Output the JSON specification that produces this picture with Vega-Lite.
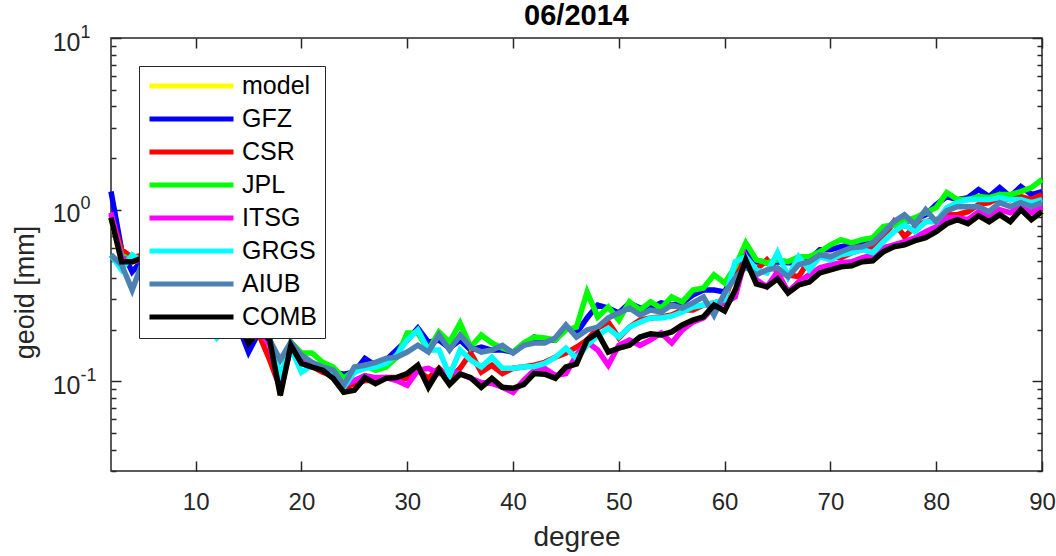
{
"$schema":"https://vega.github.io/schema/vega-lite/v6.json",
"width":931,"height":433,
"autosize":{"type":"none"},
"padding":{"left":111,"top":38,"right":14,"bottom":85},
"title":{"text":"06/2014","fontSize":29,"fontWeight":"bold","font":"Liberation Sans","color":"#000000","anchor":"middle","frame":"group","baseline":"bottom","offset":8,"dy":45},
"config":{"view":{"stroke":"#262626","strokeWidth":1.5},"font":"Liberation Sans"},
"resolve":{"axis":{"x":"independent","y":"independent"}},
"datasets":{
"model":[{"d":2,"v":0.898},{"d":3,"v":0.497},{"d":4,"v":0.497},{"d":5,"v":0.524},{"d":6,"v":0.446},{"d":7,"v":0.364},{"d":8,"v":0.298},{"d":9,"v":0.234},{"d":10,"v":0.234},{"d":11,"v":0.221},{"d":12,"v":0.204},{"d":13,"v":0.221},{"d":14,"v":0.227},{"d":15,"v":0.167},{"d":16,"v":0.199},{"d":17,"v":0.174},{"d":18,"v":0.0828},{"d":19,"v":0.162},{"d":20,"v":0.127},{"d":21,"v":0.121},{"d":22,"v":0.116},{"d":23,"v":0.104},{"d":24,"v":0.0862},{"d":25,"v":0.0886},{"d":26,"v":0.105},{"d":27,"v":0.097},{"d":28,"v":0.104},{"d":29,"v":0.105},{"d":30,"v":0.111},{"d":31,"v":0.124},{"d":32,"v":0.0923},{"d":33,"v":0.117},{"d":34,"v":0.0957},{"d":35,"v":0.11},{"d":36,"v":0.105},{"d":37,"v":0.0923},{"d":38,"v":0.104},{"d":39,"v":0.0923},{"d":40,"v":0.091},{"d":41,"v":0.0957},{"d":42,"v":0.111},{"d":43,"v":0.11},{"d":44,"v":0.104},{"d":45,"v":0.121},{"d":46,"v":0.126},{"d":47,"v":0.174},{"d":48,"v":0.191},{"d":49,"v":0.148},{"d":50,"v":0.156},{"d":51,"v":0.162},{"d":52,"v":0.181},{"d":53,"v":0.189},{"d":54,"v":0.186},{"d":55,"v":0.194},{"d":56,"v":0.213},{"d":57,"v":0.227},{"d":58,"v":0.237},{"d":59,"v":0.278},{"d":60,"v":0.257},{"d":61,"v":0.34},{"d":62,"v":0.51},{"d":63,"v":0.369},{"d":64,"v":0.355},{"d":65,"v":0.395},{"d":66,"v":0.327},{"d":67,"v":0.364},{"d":68,"v":0.379},{"d":69,"v":0.428},{"d":70,"v":0.446},{"d":71,"v":0.464},{"d":72,"v":0.471},{"d":73,"v":0.497},{"d":74,"v":0.503},{"d":75,"v":0.568},{"d":76,"v":0.608},{"d":77,"v":0.624},{"d":78,"v":0.659},{"d":79,"v":0.686},{"d":80,"v":0.744},{"d":81,"v":0.828},{"d":82,"v":0.874},{"d":83,"v":0.828},{"d":84,"v":0.922},{"d":85,"v":0.851},{"d":86,"v":0.935},{"d":87,"v":0.851},{"d":88,"v":1.0},{"d":89,"v":0.874},{"d":90,"v":0.973}],
"GFZ":[{"d":2,"v":1.274},{"d":3,"v":0.584},{"d":4,"v":0.434},{"d":5,"v":0.51},{"d":6,"v":0.434},{"d":7,"v":0.35},{"d":8,"v":0.278},{"d":9,"v":0.194},{"d":10,"v":0.234},{"d":11,"v":0.213},{"d":12,"v":0.21},{"d":13,"v":0.227},{"d":14,"v":0.213},{"d":15,"v":0.148},{"d":16,"v":0.194},{"d":17,"v":0.169},{"d":18,"v":0.101},{"d":19,"v":0.162},{"d":20,"v":0.133},{"d":21,"v":0.124},{"d":22,"v":0.119},{"d":23,"v":0.113},{"d":24,"v":0.11},{"d":25,"v":0.113},{"d":26,"v":0.136},{"d":27,"v":0.124},{"d":28,"v":0.133},{"d":29,"v":0.152},{"d":30,"v":0.174},{"d":31,"v":0.204},{"d":32,"v":0.169},{"d":33,"v":0.174},{"d":34,"v":0.156},{"d":35,"v":0.174},{"d":36,"v":0.152},{"d":37,"v":0.158},{"d":38,"v":0.152},{"d":39,"v":0.152},{"d":40,"v":0.148},{"d":41,"v":0.162},{"d":42,"v":0.181},{"d":43,"v":0.174},{"d":44,"v":0.174},{"d":45,"v":0.207},{"d":46,"v":0.191},{"d":47,"v":0.234},{"d":48,"v":0.278},{"d":49,"v":0.267},{"d":50,"v":0.25},{"d":51,"v":0.286},{"d":52,"v":0.267},{"d":53,"v":0.267},{"d":54,"v":0.286},{"d":55,"v":0.278},{"d":56,"v":0.286},{"d":57,"v":0.318},{"d":58,"v":0.34},{"d":59,"v":0.34},{"d":60,"v":0.331},{"d":61,"v":0.434},{"d":62,"v":0.568},{"d":63,"v":0.497},{"d":64,"v":0.49},{"d":65,"v":0.497},{"d":66,"v":0.49},{"d":67,"v":0.49},{"d":68,"v":0.51},{"d":69,"v":0.584},{"d":70,"v":0.584},{"d":71,"v":0.608},{"d":72,"v":0.624},{"d":73,"v":0.65},{"d":74,"v":0.668},{"d":75,"v":0.785},{"d":76,"v":0.817},{"d":77,"v":0.851},{"d":78,"v":0.874},{"d":79,"v":0.935},{"d":80,"v":1.07},{"d":81,"v":1.191},{"d":82,"v":1.144},{"d":83,"v":1.175},{"d":84,"v":1.309},{"d":85,"v":1.191},{"d":86,"v":1.344},{"d":87,"v":1.191},{"d":88,"v":1.363},{"d":89,"v":1.224},{"d":90,"v":1.274}],
"CSR":[{"d":2,"v":0.935},{"d":3,"v":0.584},{"d":4,"v":0.524},{"d":5,"v":0.545},{"d":6,"v":0.458},{"d":7,"v":0.374},{"d":8,"v":0.298},{"d":9,"v":0.243},{"d":10,"v":0.227},{"d":11,"v":0.227},{"d":12,"v":0.213},{"d":13,"v":0.221},{"d":14,"v":0.221},{"d":15,"v":0.174},{"d":16,"v":0.186},{"d":17,"v":0.133},{"d":18,"v":0.091},{"d":19,"v":0.156},{"d":20,"v":0.133},{"d":21,"v":0.122},{"d":22,"v":0.113},{"d":23,"v":0.108},{"d":24,"v":0.091},{"d":25,"v":0.097},{"d":26,"v":0.101},{"d":27,"v":0.101},{"d":28,"v":0.105},{"d":29,"v":0.105},{"d":30,"v":0.104},{"d":31,"v":0.116},{"d":32,"v":0.104},{"d":33,"v":0.119},{"d":34,"v":0.104},{"d":35,"v":0.119},{"d":36,"v":0.146},{"d":37,"v":0.113},{"d":38,"v":0.124},{"d":39,"v":0.111},{"d":40,"v":0.119},{"d":41,"v":0.121},{"d":42,"v":0.124},{"d":43,"v":0.129},{"d":44,"v":0.138},{"d":45,"v":0.146},{"d":46,"v":0.158},{"d":47,"v":0.174},{"d":48,"v":0.204},{"d":49,"v":0.221},{"d":50,"v":0.179},{"d":51,"v":0.207},{"d":52,"v":0.227},{"d":53,"v":0.234},{"d":54,"v":0.237},{"d":55,"v":0.243},{"d":56,"v":0.26},{"d":57,"v":0.26},{"d":58,"v":0.278},{"d":59,"v":0.286},{"d":60,"v":0.298},{"d":61,"v":0.446},{"d":62,"v":0.49},{"d":63,"v":0.446},{"d":64,"v":0.51},{"d":65,"v":0.434},{"d":66,"v":0.417},{"d":67,"v":0.406},{"d":68,"v":0.51},{"d":69,"v":0.545},{"d":70,"v":0.531},{"d":71,"v":0.524},{"d":72,"v":0.561},{"d":73,"v":0.584},{"d":74,"v":0.608},{"d":75,"v":0.686},{"d":76,"v":0.851},{"d":77,"v":0.695},{"d":78,"v":0.796},{"d":79,"v":0.851},{"d":80,"v":0.874},{"d":81,"v":0.935},{"d":82,"v":0.935},{"d":83,"v":0.973},{"d":84,"v":1.07},{"d":85,"v":1.099},{"d":86,"v":1.175},{"d":87,"v":1.144},{"d":88,"v":1.191},{"d":89,"v":1.144},{"d":90,"v":1.224}],
"JPL":[{"d":2,"v":0.898},{"d":3,"v":0.545},{"d":4,"v":0.497},{"d":5,"v":0.524},{"d":6,"v":0.446},{"d":7,"v":0.364},{"d":8,"v":0.298},{"d":9,"v":0.234},{"d":10,"v":0.234},{"d":11,"v":0.227},{"d":12,"v":0.21},{"d":13,"v":0.227},{"d":14,"v":0.234},{"d":15,"v":0.179},{"d":16,"v":0.204},{"d":17,"v":0.179},{"d":18,"v":0.101},{"d":19,"v":0.169},{"d":20,"v":0.146},{"d":21,"v":0.146},{"d":22,"v":0.129},{"d":23,"v":0.121},{"d":24,"v":0.104},{"d":25,"v":0.116},{"d":26,"v":0.124},{"d":27,"v":0.116},{"d":28,"v":0.121},{"d":29,"v":0.138},{"d":30,"v":0.191},{"d":31,"v":0.191},{"d":32,"v":0.152},{"d":33,"v":0.194},{"d":34,"v":0.169},{"d":35,"v":0.218},{"d":36,"v":0.158},{"d":37,"v":0.186},{"d":38,"v":0.167},{"d":39,"v":0.156},{"d":40,"v":0.148},{"d":41,"v":0.167},{"d":42,"v":0.181},{"d":43,"v":0.179},{"d":44,"v":0.174},{"d":45,"v":0.199},{"d":46,"v":0.207},{"d":47,"v":0.331},{"d":48,"v":0.237},{"d":49,"v":0.271},{"d":50,"v":0.227},{"d":51,"v":0.29},{"d":52,"v":0.26},{"d":53,"v":0.29},{"d":54,"v":0.267},{"d":55,"v":0.31},{"d":56,"v":0.29},{"d":57,"v":0.34},{"d":58,"v":0.35},{"d":59,"v":0.417},{"d":60,"v":0.374},{"d":61,"v":0.464},{"d":62,"v":0.641},{"d":63,"v":0.51},{"d":64,"v":0.49},{"d":65,"v":0.51},{"d":66,"v":0.497},{"d":67,"v":0.531},{"d":68,"v":0.531},{"d":69,"v":0.568},{"d":70,"v":0.624},{"d":71,"v":0.668},{"d":72,"v":0.641},{"d":73,"v":0.668},{"d":74,"v":0.686},{"d":75,"v":0.796},{"d":76,"v":0.817},{"d":77,"v":0.851},{"d":78,"v":0.898},{"d":79,"v":0.96},{"d":80,"v":1.027},{"d":81,"v":1.257},{"d":82,"v":1.144},{"d":83,"v":1.144},{"d":84,"v":1.191},{"d":85,"v":1.175},{"d":86,"v":1.224},{"d":87,"v":1.224},{"d":88,"v":1.274},{"d":89,"v":1.344},{"d":90,"v":1.497}],
"ITSG":[{"d":2,"v":0.96},{"d":3,"v":0.524},{"d":4,"v":0.497},{"d":5,"v":0.51},{"d":6,"v":0.434},{"d":7,"v":0.36},{"d":8,"v":0.29},{"d":9,"v":0.234},{"d":10,"v":0.227},{"d":11,"v":0.221},{"d":12,"v":0.21},{"d":13,"v":0.221},{"d":14,"v":0.221},{"d":15,"v":0.169},{"d":16,"v":0.199},{"d":17,"v":0.162},{"d":18,"v":0.091},{"d":19,"v":0.158},{"d":20,"v":0.129},{"d":21,"v":0.122},{"d":22,"v":0.116},{"d":23,"v":0.107},{"d":24,"v":0.0948},{"d":25,"v":0.101},{"d":26,"v":0.108},{"d":27,"v":0.105},{"d":28,"v":0.105},{"d":29,"v":0.101},{"d":30,"v":0.0948},{"d":31,"v":0.116},{"d":32,"v":0.119},{"d":33,"v":0.111},{"d":34,"v":0.116},{"d":35,"v":0.111},{"d":36,"v":0.104},{"d":37,"v":0.0983},{"d":38,"v":0.097},{"d":39,"v":0.0923},{"d":40,"v":0.0862},{"d":41,"v":0.101},{"d":42,"v":0.116},{"d":43,"v":0.119},{"d":44,"v":0.108},{"d":45,"v":0.111},{"d":46,"v":0.142},{"d":47,"v":0.169},{"d":48,"v":0.152},{"d":49,"v":0.124},{"d":50,"v":0.162},{"d":51,"v":0.174},{"d":52,"v":0.162},{"d":53,"v":0.174},{"d":54,"v":0.191},{"d":55,"v":0.167},{"d":56,"v":0.199},{"d":57,"v":0.221},{"d":58,"v":0.234},{"d":59,"v":0.271},{"d":60,"v":0.286},{"d":61,"v":0.31},{"d":62,"v":0.531},{"d":63,"v":0.39},{"d":64,"v":0.355},{"d":65,"v":0.434},{"d":66,"v":0.331},{"d":67,"v":0.379},{"d":68,"v":0.417},{"d":69,"v":0.458},{"d":70,"v":0.477},{"d":71,"v":0.49},{"d":72,"v":0.497},{"d":73,"v":0.524},{"d":74,"v":0.545},{"d":75,"v":0.6},{"d":76,"v":0.624},{"d":77,"v":0.65},{"d":78,"v":0.686},{"d":79,"v":0.744},{"d":80,"v":0.796},{"d":81,"v":0.898},{"d":82,"v":0.898},{"d":83,"v":0.874},{"d":84,"v":0.973},{"d":85,"v":0.91},{"d":86,"v":1.0},{"d":87,"v":0.96},{"d":88,"v":1.041},{"d":89,"v":0.96},{"d":90,"v":1.041}],
"GRGS":[{"d":2,"v":0.545},{"d":3,"v":0.446},{"d":4,"v":0.545},{"d":5,"v":0.497},{"d":6,"v":0.417},{"d":7,"v":0.34},{"d":8,"v":0.278},{"d":9,"v":0.243},{"d":10,"v":0.221},{"d":11,"v":0.213},{"d":12,"v":0.179},{"d":13,"v":0.213},{"d":14,"v":0.221},{"d":15,"v":0.174},{"d":16,"v":0.199},{"d":17,"v":0.174},{"d":18,"v":0.108},{"d":19,"v":0.156},{"d":20,"v":0.113},{"d":21,"v":0.124},{"d":22,"v":0.119},{"d":23,"v":0.108},{"d":24,"v":0.0923},{"d":25,"v":0.113},{"d":26,"v":0.119},{"d":27,"v":0.121},{"d":28,"v":0.127},{"d":29,"v":0.142},{"d":30,"v":0.174},{"d":31,"v":0.199},{"d":32,"v":0.152},{"d":33,"v":0.152},{"d":34,"v":0.108},{"d":35,"v":0.152},{"d":36,"v":0.133},{"d":37,"v":0.121},{"d":38,"v":0.138},{"d":39,"v":0.119},{"d":40,"v":0.119},{"d":41,"v":0.121},{"d":42,"v":0.122},{"d":43,"v":0.127},{"d":44,"v":0.138},{"d":45,"v":0.156},{"d":46,"v":0.136},{"d":47,"v":0.162},{"d":48,"v":0.184},{"d":49,"v":0.204},{"d":50,"v":0.181},{"d":51,"v":0.207},{"d":52,"v":0.221},{"d":53,"v":0.234},{"d":54,"v":0.234},{"d":55,"v":0.24},{"d":56,"v":0.253},{"d":57,"v":0.271},{"d":58,"v":0.278},{"d":59,"v":0.286},{"d":60,"v":0.298},{"d":61,"v":0.497},{"d":62,"v":0.531},{"d":63,"v":0.446},{"d":64,"v":0.428},{"d":65,"v":0.561},{"d":66,"v":0.406},{"d":67,"v":0.531},{"d":68,"v":0.446},{"d":69,"v":0.531},{"d":70,"v":0.51},{"d":71,"v":0.545},{"d":72,"v":0.561},{"d":73,"v":0.584},{"d":74,"v":0.561},{"d":75,"v":0.65},{"d":76,"v":0.744},{"d":77,"v":0.817},{"d":78,"v":0.744},{"d":79,"v":0.851},{"d":80,"v":0.851},{"d":81,"v":1.027},{"d":82,"v":1.099},{"d":83,"v":1.144},{"d":84,"v":1.144},{"d":85,"v":1.144},{"d":86,"v":1.175},{"d":87,"v":1.144},{"d":88,"v":1.144},{"d":89,"v":1.099},{"d":90,"v":1.144}],
"AIUB":[{"d":2,"v":0.545},{"d":3,"v":0.477},{"d":4,"v":0.34},{"d":5,"v":0.497},{"d":6,"v":0.434},{"d":7,"v":0.355},{"d":8,"v":0.29},{"d":9,"v":0.234},{"d":10,"v":0.227},{"d":11,"v":0.221},{"d":12,"v":0.21},{"d":13,"v":0.221},{"d":14,"v":0.227},{"d":15,"v":0.179},{"d":16,"v":0.204},{"d":17,"v":0.174},{"d":18,"v":0.133},{"d":19,"v":0.169},{"d":20,"v":0.142},{"d":21,"v":0.129},{"d":22,"v":0.121},{"d":23,"v":0.116},{"d":24,"v":0.0948},{"d":25,"v":0.121},{"d":26,"v":0.124},{"d":27,"v":0.129},{"d":28,"v":0.136},{"d":29,"v":0.138},{"d":30,"v":0.148},{"d":31,"v":0.162},{"d":32,"v":0.148},{"d":33,"v":0.186},{"d":34,"v":0.152},{"d":35,"v":0.186},{"d":36,"v":0.158},{"d":37,"v":0.148},{"d":38,"v":0.152},{"d":39,"v":0.162},{"d":40,"v":0.146},{"d":41,"v":0.162},{"d":42,"v":0.167},{"d":43,"v":0.167},{"d":44,"v":0.179},{"d":45,"v":0.213},{"d":46,"v":0.181},{"d":47,"v":0.199},{"d":48,"v":0.207},{"d":49,"v":0.234},{"d":50,"v":0.25},{"d":51,"v":0.267},{"d":52,"v":0.243},{"d":53,"v":0.26},{"d":54,"v":0.253},{"d":55,"v":0.278},{"d":56,"v":0.267},{"d":57,"v":0.286},{"d":58,"v":0.31},{"d":59,"v":0.243},{"d":60,"v":0.327},{"d":61,"v":0.4},{"d":62,"v":0.464},{"d":63,"v":0.417},{"d":64,"v":0.446},{"d":65,"v":0.458},{"d":66,"v":0.406},{"d":67,"v":0.477},{"d":68,"v":0.497},{"d":69,"v":0.545},{"d":70,"v":0.531},{"d":71,"v":0.568},{"d":72,"v":0.6},{"d":73,"v":0.608},{"d":74,"v":0.641},{"d":75,"v":0.734},{"d":76,"v":0.851},{"d":77,"v":0.935},{"d":78,"v":0.817},{"d":79,"v":1.0},{"d":80,"v":0.851},{"d":81,"v":0.987},{"d":82,"v":1.041},{"d":83,"v":1.041},{"d":84,"v":1.041},{"d":85,"v":0.973},{"d":86,"v":1.099},{"d":87,"v":1.041},{"d":88,"v":1.099},{"d":89,"v":1.041},{"d":90,"v":1.099}],
"COMB":[{"d":2,"v":0.898},{"d":3,"v":0.497},{"d":4,"v":0.497},{"d":5,"v":0.524},{"d":6,"v":0.446},{"d":7,"v":0.364},{"d":8,"v":0.298},{"d":9,"v":0.234},{"d":10,"v":0.234},{"d":11,"v":0.221},{"d":12,"v":0.204},{"d":13,"v":0.221},{"d":14,"v":0.227},{"d":15,"v":0.167},{"d":16,"v":0.199},{"d":17,"v":0.174},{"d":18,"v":0.0828},{"d":19,"v":0.162},{"d":20,"v":0.127},{"d":21,"v":0.121},{"d":22,"v":0.116},{"d":23,"v":0.104},{"d":24,"v":0.0862},{"d":25,"v":0.0886},{"d":26,"v":0.105},{"d":27,"v":0.097},{"d":28,"v":0.104},{"d":29,"v":0.105},{"d":30,"v":0.111},{"d":31,"v":0.124},{"d":32,"v":0.0923},{"d":33,"v":0.117},{"d":34,"v":0.0957},{"d":35,"v":0.11},{"d":36,"v":0.105},{"d":37,"v":0.0923},{"d":38,"v":0.104},{"d":39,"v":0.0923},{"d":40,"v":0.091},{"d":41,"v":0.0957},{"d":42,"v":0.111},{"d":43,"v":0.11},{"d":44,"v":0.104},{"d":45,"v":0.121},{"d":46,"v":0.126},{"d":47,"v":0.174},{"d":48,"v":0.191},{"d":49,"v":0.148},{"d":50,"v":0.156},{"d":51,"v":0.162},{"d":52,"v":0.181},{"d":53,"v":0.189},{"d":54,"v":0.186},{"d":55,"v":0.194},{"d":56,"v":0.213},{"d":57,"v":0.227},{"d":58,"v":0.237},{"d":59,"v":0.278},{"d":60,"v":0.257},{"d":61,"v":0.34},{"d":62,"v":0.51},{"d":63,"v":0.369},{"d":64,"v":0.355},{"d":65,"v":0.395},{"d":66,"v":0.327},{"d":67,"v":0.364},{"d":68,"v":0.379},{"d":69,"v":0.428},{"d":70,"v":0.446},{"d":71,"v":0.464},{"d":72,"v":0.471},{"d":73,"v":0.497},{"d":74,"v":0.503},{"d":75,"v":0.568},{"d":76,"v":0.608},{"d":77,"v":0.624},{"d":78,"v":0.659},{"d":79,"v":0.686},{"d":80,"v":0.744},{"d":81,"v":0.828},{"d":82,"v":0.874},{"d":83,"v":0.828},{"d":84,"v":0.922},{"d":85,"v":0.851},{"d":86,"v":0.935},{"d":87,"v":0.851},{"d":88,"v":1.0},{"d":89,"v":0.874},{"d":90,"v":0.973}]
},
"layer":[
{"data":{"name":"model"},"mark":{"type":"line","strokeWidth":5.5},
 "encoding":{
  "x":{"field":"d","type":"quantitative","scale":{"domain":[2,90],"nice":false,"zero":false},
       "axis":{"orient":"top","values":[10,20,30,40,50,60,70,80,90],"labels":false,"title":null,"domain":false,"grid":false,"tickSize":-10,"tickColor":"#262626","tickWidth":1.5}},
  "y":{"field":"v","type":"quantitative","scale":{"type":"log","domain":[0.03,10],"nice":false},
       "axis":{"orient":"right","values":[0.03,0.04,0.05,0.06,0.07,0.08,0.09,0.1,0.2,0.3,0.4,0.5,0.6,0.7,0.8,0.9,1,2,3,4,5,6,7,8,9,10],"labels":false,"title":null,"domain":false,"grid":false,
        "tickSize":{"condition":{"test":"datum.value==0.1||datum.value==1||datum.value==10","value":-10},"value":-5},"tickColor":"#262626","tickWidth":1.5}},
  "color":{"datum":"model","type":"nominal",
    "scale":{"domain":["model","GFZ","CSR","JPL","ITSG","GRGS","AIUB","COMB"],"range":["#ffff00","#0000ff","#ff0000","#00ff00","#ff00ff","#00ffff","#4d80b3","#000000"]},
    "legend":{"orient":"none","legendX":28,"legendY":28,"title":null,"symbolType":"stroke","symbolSize":7056,"symbolStrokeWidth":5,"symbolOpacity":1,"labelFontSize":25,"labelFont":"Liberation Sans","labelColor":"#000000","labelOffset":6,"padding":8,"rowPadding":8,"clipHeight":24,"strokeColor":"#262626","fillColor":"#ffffff"}}
 }},
{"data":{"name":"GFZ"},"mark":{"type":"line","strokeWidth":5.5},
 "encoding":{"x":{"field":"d","type":"quantitative","axis":null},
  "y":{"field":"v","type":"quantitative",
       "axis":{"orient":"left","values":[0.1,1,10],"labelExpr":"datum.value==10?'1':datum.value==1?'0':'-1'","labelAlign":"left","labelFontSize":18,"labelFont":"Liberation Sans","labelColor":"#262626","labelPadding":31,"labelOffset":-6,"labelOverlap":false,"labelFlush":false,"ticks":false,"domain":false,"grid":false,"title":null}},
  "color":{"datum":"GFZ","type":"nominal"}}},
{"data":{"name":"CSR"},"mark":{"type":"line","strokeWidth":5.5},
 "encoding":{"x":{"field":"d","type":"quantitative","axis":null},"y":{"field":"v","type":"quantitative","axis":null},"color":{"datum":"CSR","type":"nominal"}}},
{"data":{"name":"JPL"},"mark":{"type":"line","strokeWidth":5.5},
 "encoding":{"x":{"field":"d","type":"quantitative","axis":null},"y":{"field":"v","type":"quantitative","axis":null},"color":{"datum":"JPL","type":"nominal"}}},
{"data":{"name":"ITSG"},"mark":{"type":"line","strokeWidth":5.5},
 "encoding":{"x":{"field":"d","type":"quantitative","axis":null},"y":{"field":"v","type":"quantitative","axis":null},"color":{"datum":"ITSG","type":"nominal"}}},
{"data":{"name":"GRGS"},"mark":{"type":"line","strokeWidth":5.5},
 "encoding":{"x":{"field":"d","type":"quantitative","axis":null},"y":{"field":"v","type":"quantitative","axis":null},"color":{"datum":"GRGS","type":"nominal"}}},
{"data":{"name":"AIUB"},"mark":{"type":"line","strokeWidth":5.5},
 "encoding":{"x":{"field":"d","type":"quantitative","axis":null},"y":{"field":"v","type":"quantitative","axis":null},"color":{"datum":"AIUB","type":"nominal"}}},
{"data":{"name":"COMB"},"mark":{"type":"line","strokeWidth":5.5},
 "encoding":{
  "x":{"field":"d","type":"quantitative",
       "axis":{"orient":"bottom","values":[10,20,30,40,50,60,70,80,90],"title":"degree","titleFontSize":28,"titleFontWeight":"normal","titleColor":"#262626","titleFont":"Liberation Sans","titlePadding":9,
        "labelFontSize":24,"labelFont":"Liberation Sans","labelColor":"#262626","labelPadding":29,"labelFlush":false,"labelOverlap":false,
        "domain":false,"grid":false,"tickSize":-10,"tickColor":"#262626","tickWidth":1.5}},
  "y":{"field":"v","type":"quantitative",
       "axis":{"orient":"left","values":[0.03,0.04,0.05,0.06,0.07,0.08,0.09,0.1,0.2,0.3,0.4,0.5,0.6,0.7,0.8,0.9,1,2,3,4,5,6,7,8,9,10],
        "labelExpr":"datum.value==10||datum.value==1||datum.value==0.1?'10':''",
        "title":"geoid [mm]","titleFontSize":27,"titleFontWeight":"normal","titleColor":"#262626","titleFont":"Liberation Sans","titlePadding":13,"titleY":254,
        "labelFontSize":25,"labelFont":"Liberation Sans","labelColor":"#262626","labelPadding":41,"labelOffset":4,"labelOverlap":false,"labelFlush":false,
        "domain":false,"grid":false,
        "tickSize":{"condition":{"test":"datum.value==0.1||datum.value==1||datum.value==10","value":-10},"value":-5},"tickColor":"#262626","tickWidth":1.5}},
  "color":{"datum":"COMB","type":"nominal"}
 }}
]
}
